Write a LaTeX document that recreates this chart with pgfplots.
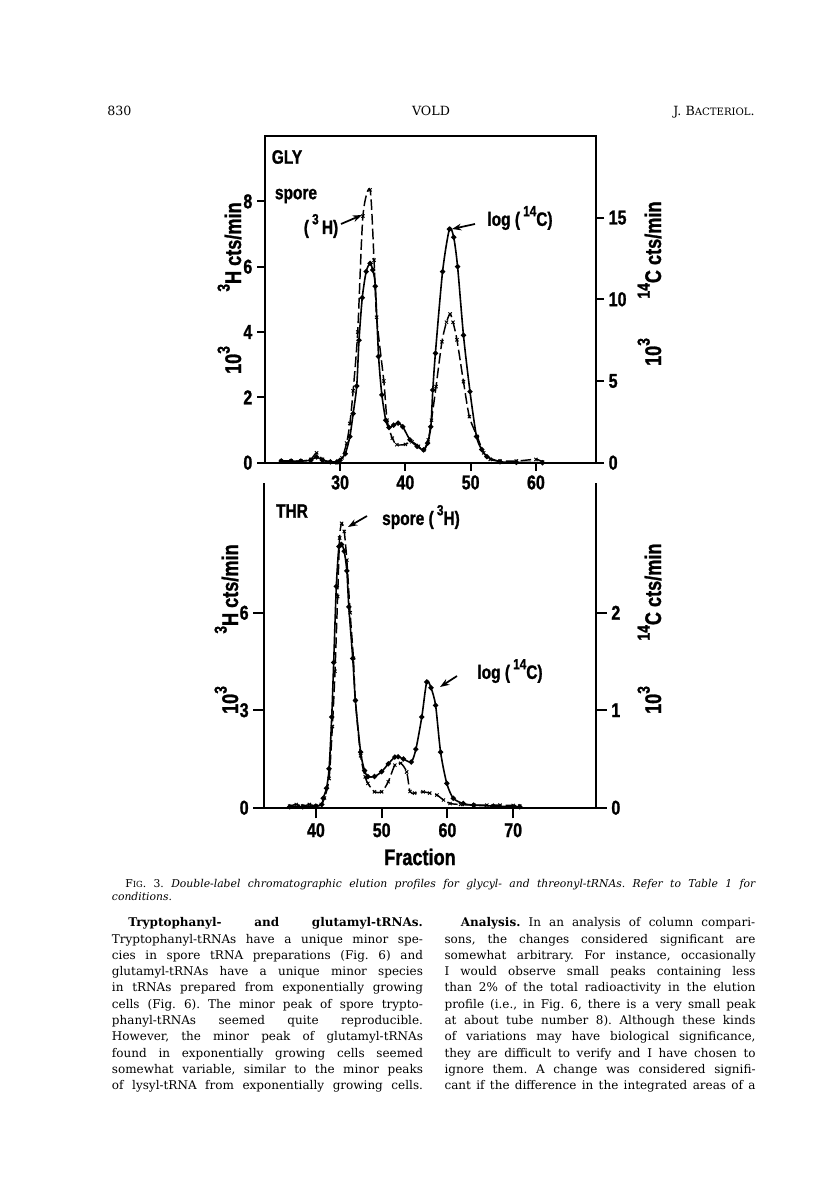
\documentclass[border=0pt]{standalone}
\usepackage{fontspec}
\setmainfont{DejaVu Serif}
\newfontfamily\cond[FakeStretch=0.8,FakeBold=1.2]{Liberation Sans Bold}
\usepackage{pgfplots}
\pgfplotsset{compat=1.18}
\usetikzlibrary{arrows.meta}

\newcommand{\plotfont}{\cond\fontsize{15}{17}\selectfont}
\newcommand{\annfont}{\cond\fontsize{14.5}{16}\selectfont}
\newcommand{\labfont}{\cond\fontsize{17}{19}\selectfont}
\newcommand{\bodyfont}{\fontsize{9.0}{10}\selectfont}
\newcommand{\bline}[1]{\makebox[233.25pt][s]{#1}}
\newcommand{\upa}[1]{\raisebox{0.5em}{\cond\fontsize{11}{12}\selectfont #1}}
\newcommand{\upl}[1]{\raisebox{0.5em}{\cond\fontsize{13}{14}\selectfont #1}}

\pgfplotsset{
  vold/.style={scale only axis, anchor=south west,
    axis line style={line width=1.4pt,-},
    major tick style={line width=1.4pt,black},
    tick align=outside,
    tick label style={font=\plotfont},
    /pgf/number format/assume math mode=true},
  solidser/.style={black, line width=1.2pt, smooth, tension=0.45,
    mark=*, mark size=1.3pt, mark options={solid}},
  dashser/.style={black, line width=1.1pt, smooth, tension=0.45,
    dash pattern=on 8pt off 3pt,
    mark=x, mark size=1.7pt, mark options={solid, line width=0.7pt}},
}

\begin{document}
\frenchspacing
\begin{tikzpicture}
\fill[white] (0,0) rectangle (612pt,-894pt);
\path[use as bounding box] (0,0) rectangle (612pt,-894pt);

% ---------------- GLY (top) ----------------
\begin{axis}[vold, at={(198.75pt,-347pt)}, width=248.25pt, height=245pt,
  xmin=18.5, xmax=69.2, ymin=0, ymax=10,
  xtick={30,40,50,60}, ytick={0,2,4,6,8},
  xtick pos=left, ytick pos=left, major tick length=6pt]
\addplot[dashser] coordinates {
 (21,0.05) (22.5,0.05) (24,0.05) (25.5,0.1) (26.4,0.3) (27.3,0.1) (28.5,0.02)
 (29.5,0.0) (30.3,0.15) (31.0,0.6) (31.5,1.2) (32.0,2.2) (32.7,4.0) (33.5,7.55)
 (34.6,8.35) (35.2,6.2) (35.6,4.45) (36.7,2.5) (37.2,1.3) (38.0,0.75) (38.7,0.55)
 (40.0,0.56) (41.0,0.64) (42.0,0.5) (42.8,0.39) (43.5,0.7) (44.0,1.3) (44.7,2.33)
 (45.6,3.7) (46.3,4.3) (46.85,4.55) (47.3,4.3) (47.9,3.76) (48.9,2.48) (49.8,1.41)
 (51.0,0.8) (52.0,0.3) (53.0,0.1) (54.5,0.05) (57,0.05) (60,0.1) (61,0.02)
};
\end{axis}
\begin{axis}[vold, at={(198.75pt,-347pt)}, width=248.25pt, height=245pt,
  xmin=18.5, xmax=69.2, ymin=0, ymax=20,
  axis y line*=right, axis x line=none, ytick={0,5,10,15},
  major tick length=6pt]
\addplot[solidser] coordinates {
 (21,0.1) (22.5,0.1) (24,0.1) (25.5,0.15) (26.4,0.35) (27.3,0.15) (28.5,0.05)
 (29.5,0.05) (30.0,0.15) (30.8,0.55) (31.5,1.6) (32.0,3.0) (32.55,4.7) (32.9,7.5)
 (33.4,10.1) (34.0,11.7) (34.6,12.2) (35.0,11.8) (35.4,10.8) (35.9,6.5) (36.4,4.15)
 (37.0,2.6) (37.5,2.15) (38.2,2.3) (38.9,2.42) (39.6,2.2) (40.7,1.4) (41.8,1.0)
 (42.8,0.78) (43.4,1.2) (43.9,2.2) (44.2,4.45) (44.6,6.7) (45.7,11.7) (46.75,14.3)
 (47.4,13.8) (48.0,12.0) (48.9,7.8) (49.9,4.35) (50.9,1.6) (51.7,0.8) (52.5,0.37)
 (54.5,0.06) (57,0.02) (61,0.0)
};
\end{axis}

% ---------------- THR (bottom) ----------------
\begin{axis}[vold, at={(198pt,-605.8pt)}, width=249pt, height=243.75pt,
  xmin=32.1, xmax=82.6, ymin=0, ymax=10,
  axis x line*=bottom, axis y line*=left,
  xtick={40,50,60,70}, ytick={0,3,6}, major tick length=8pt]
\addplot[dashser] coordinates {
 (36,0.05) (37,0.1) (38,0.05) (39,0.1) (40,0.05) (40.8,0.1) (41.3,0.3) (42.0,0.9)
 (42.5,2.5) (42.9,4.2) (43.3,6.5) (43.6,8.3) (43.9,8.75) (44.3,8.5) (44.7,7.62)
 (45.2,6.0) (45.7,4.6) (46.0,3.3) (46.8,1.6) (47.5,0.95) (47.9,0.75) (48.9,0.49)
 (50.0,0.49) (51.0,0.8) (52.0,1.31) (52.9,1.37) (53.8,1.1) (54.3,0.5) (55.0,0.45)
 (56.3,0.49) (57.3,0.45) (58.4,0.39) (59.4,0.24) (60.4,0.13) (62,0.1) (64,0.08)
 (66,0.08) (68,0.08) (70,0.07) (71,0.05)
};
\end{axis}
\begin{axis}[vold, at={(198pt,-605.8pt)}, width=249pt, height=243.75pt,
  xmin=32.1, xmax=82.6, ymin=0, ymax=3.3333,
  axis y line*=right, axis x line=none, ytick={0,1,2}, major tick length=8pt]
\addplot[solidser] coordinates {
 (36,0.01) (38,0.01) (40,0.017) (40.9,0.033) (41.1,0.097) (41.6,0.2) (42.0,0.4)
 (42.4,0.93) (42.7,1.49) (43.1,2.27) (43.5,2.68) (43.9,2.7) (44.3,2.63) (44.7,2.43)
 (45.0,2.06) (45.6,1.53) (46.0,1.1) (46.8,0.57) (47.4,0.38) (47.9,0.32) (48.9,0.32)
 (50.0,0.37) (51.0,0.45) (52.0,0.52) (52.5,0.523) (53.3,0.5) (54.5,0.47) (55.2,0.6)
 (56.1,0.93) (56.85,1.29) (57.5,1.23) (58.2,1.05) (58.96,0.57) (59.9,0.25)
 (60.9,0.097) (62.4,0.043) (64,0.027) (67,0.017) (71,0.01)
};
\end{axis}

\begin{scope}[x=0.75pt,y=-0.75pt]
 \tikzset{ann/.style={-{Stealth[length=7pt,width=5pt]}, line width=1.3pt}}
 % top plot annotations
 \node[font=\annfont] at (287,157) {GLY};
 \node[font=\annfont] at (296,196) {spore};
 \node[font=\annfont] at (321,226) {(\,\upa{3}\,H)};
 \draw[ann] (341,224) -- (362,215);
 \node[font=\annfont] at (520,218) {log (\,\upa{14}C)};
 \draw[ann] (475,224) -- (452,229);
 % bottom plot annotations
 \node[font=\annfont] at (292,511) {THR};
 \node[font=\annfont] at (421,517) {spore (\,\upa{3}H)};
 \draw[ann] (367,516) -- (348,527);
 \node[font=\annfont] at (510,671) {log (\,\upa{14}C)};
 \draw[ann] (457,676) -- (440,687);
 \node[font=\labfont] at (420,857) {Fraction};
 % axis titles (rotated, baseline on the right)
 \node[font=\labfont, rotate=90, anchor=base, inner sep=0] at (241,247) {\upl{3}H cts/min};
 \node[font=\labfont, rotate=90, anchor=base, inner sep=0] at (241,360) {10\upl{3}};
 \node[font=\labfont, rotate=90, anchor=base, inner sep=0] at (661,250) {\upl{14}C cts/min};
 \node[font=\labfont, rotate=90, anchor=base, inner sep=0] at (661,352) {10\upl{3}};
 \node[font=\labfont, rotate=90, anchor=base, inner sep=0] at (238,589) {\upl{3}H cts/min};
 \node[font=\labfont, rotate=90, anchor=base, inner sep=0] at (238,700) {10\upl{3}};
 \node[font=\labfont, rotate=90, anchor=base, inner sep=0] at (661,592) {\upl{14}C cts/min};
 \node[font=\labfont, rotate=90, anchor=base, inner sep=0] at (661,700) {10\upl{3}};

 % page header
 \node[anchor=base west, inner sep=0, font=\fontsize{9.5}{11}\selectfont] at (107,115.7) {830};
 \node[anchor=base, inner sep=0, font=\fontsize{9.5}{11}\selectfont] at (431,115.7) {VOLD};
 \node[anchor=base east, inner sep=0, font=\fontsize{9.5}{11}\selectfont] at (755,115.7) {J. B{\fontsize{7.6}{9}\selectfont ACTERIOL}.};

 % caption
 \node[anchor=base west, inner sep=0, font=\fontsize{8.1}{9}\selectfont] at (125,887)
   {\makebox[472.5pt][s]{F{\fontsize{6.3}{7}\selectfont IG}. 3. \itshape Double-label chromatographic elution profiles for glycyl- and threonyl-tRNAs. Refer to Table 1 for}};
 \node[anchor=base west, inner sep=0, font=\fontsize{8.1}{9}\selectfont\itshape] at (111.7,900) {conditions.};

 % body text
 \begin{scope}[every node/.style={anchor=base west, inner sep=0, font=\bodyfont}]
 \node at (128,926.7) {\makebox[221pt][s]{\bfseries Tryptophanyl- and glutamyl-tRNAs.}};
 \node at (111.7,943.0) {\bline{Tryptophanyl-tRNAs have a unique minor spe-}};
 \node at (111.7,959.3) {\bline{cies in spore tRNA preparations (Fig. 6) and}};
 \node at (111.7,975.6) {\bline{glutamyl-tRNAs have a unique minor species}};
 \node at (111.7,991.9) {\bline{in tRNAs prepared from exponentially growing}};
 \node at (111.7,1008.2) {\bline{cells (Fig. 6). The minor peak of spore trypto-}};
 \node at (111.7,1024.5) {\bline{phanyl-tRNAs seemed quite reproducible.}};
 \node at (111.7,1040.8) {\bline{However, the minor peak of glutamyl-tRNAs}};
 \node at (111.7,1057.1) {\bline{found in exponentially growing cells seemed}};
 \node at (111.7,1073.4) {\bline{somewhat variable, similar to the minor peaks}};
 \node at (111.7,1089.7) {\bline{of lysyl-tRNA from exponentially growing cells.}};
 \node at (460.6,926.7) {\makebox[220.8pt][s]{\textbf{Analysis.} In an analysis of column compari-}};
 \node at (444.3,943.0) {\bline{sons, the changes considered significant are}};
 \node at (444.3,959.3) {\bline{somewhat arbitrary. For instance, occasionally}};
 \node at (444.3,975.6) {\bline{I would observe small peaks containing less}};
 \node at (444.3,991.9) {\bline{than 2\% of the total radioactivity in the elution}};
 \node at (444.3,1008.2) {\bline{profile (i.e., in Fig. 6, there is a very small peak}};
 \node at (444.3,1024.5) {\bline{at about tube number 8). Although these kinds}};
 \node at (444.3,1040.8) {\bline{of variations may have biological significance,}};
 \node at (444.3,1057.1) {\bline{they are difficult to verify and I have chosen to}};
 \node at (444.3,1073.4) {\bline{ignore them. A change was considered signifi-}};
 \node at (444.3,1089.7) {\bline{cant if the difference in the integrated areas of a}};
 \end{scope}
\end{scope}
\end{tikzpicture}
\end{document}
